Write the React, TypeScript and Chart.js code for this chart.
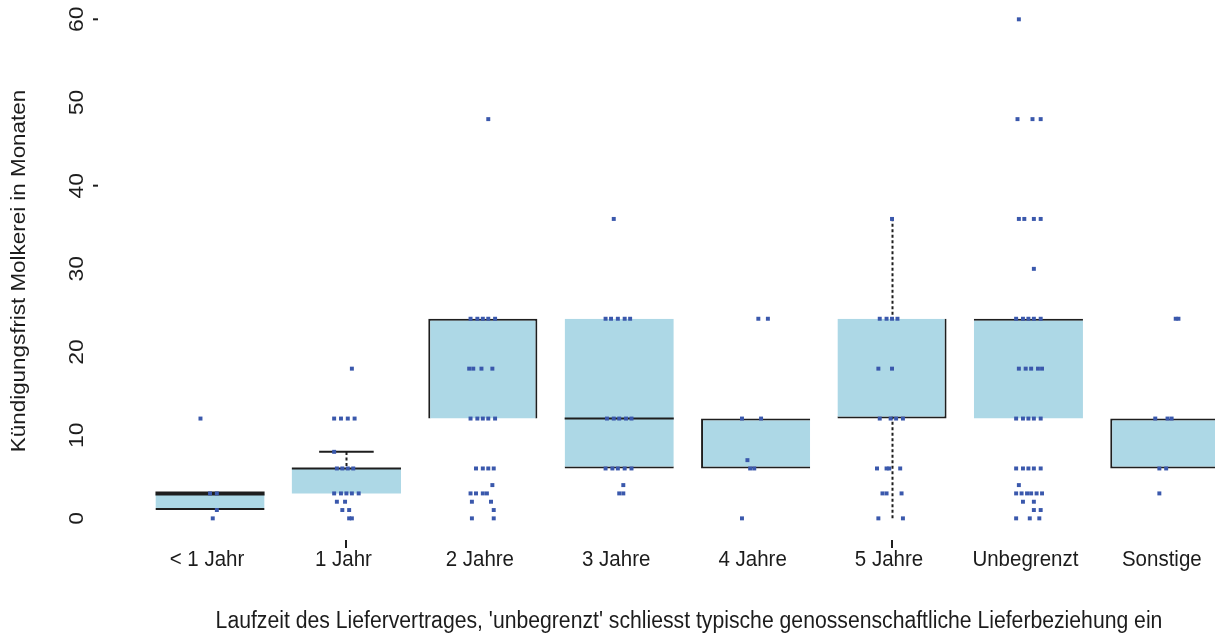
import { useEffect, useRef } from "react";
import { Chart, registerables } from "chart.js";

Chart.register(...registerables);

// ---------- data ----------
const categories = ["< 1 Jahr", "1 Jahr", "2 Jahre", "3 Jahre", "4 Jahre", "5 Jahre", "Unbegrenzt", "Sonstige"];
const q1 = [1, 3, 12, 6, 6, 12, 12, 6];
const q3 = [3, 6, 24, 24, 12, 24, 24, 12];
const medians = [3, 6, 24, 12, 12, 12, 24, 12];
const upperWhisker: (number | null)[] = [null, 8, null, null, null, 36, null, null];
const lowerWhisker: (number | null)[] = [null, null, null, null, null, 0, null, null];
const yTicks = [0, 10, 20, 30, 40, 50, 60];
const yTitle = "Kündigungsfrist Molkerei in Monaten";
const xTitle = "Laufzeit des Liefervertrages, 'unbegrenzt' schliesst typische genossenschaftliche Lieferbeziehung ein";

// observations: [months, horizontal jitter in category widths]
const obsLt1Jahr = [[12, -0.07], [3, 0], [3, 0.05], [1, 0.05], [0, 0.02]];
const obs1Jahr = [
  [18, 0.04], [12, -0.09], [12, -0.04], [12, 0.01], [12, 0.06], [8, -0.09],
  [6, -0.07], [6, -0.03], [6, 0.01], [6, 0.05],
  [3, -0.09], [3, -0.04], [3, 0], [3, 0.04], [3, 0.09],
  [2, -0.07], [2, -0.01], [1, -0.03], [1, 0.02], [0, 0.02], [0, 0.04],
];
const obs2Jahre = [
  [48, 0.04], [24, -0.09], [24, -0.04], [24, 0], [24, 0.04], [24, 0.09],
  [18, -0.1], [18, -0.07], [18, -0.01], [18, 0.07],
  [12, -0.09], [12, -0.04], [12, 0], [12, 0.04], [12, 0.09],
  [6, -0.05], [6, 0], [6, 0.04], [6, 0.08], [4, 0.07],
  [3, -0.09], [3, -0.05], [3, 0], [3, 0.03], [2, -0.08], [2, 0.06], [1, 0.08], [0, -0.08], [0, 0.08],
];
const obs3Jahre = [
  [36, -0.04], [24, -0.1], [24, -0.06], [24, -0.01], [24, 0.04], [24, 0.08],
  [12, -0.09], [12, -0.04], [12, 0], [12, 0.05], [12, 0.09],
  [6, -0.1], [6, -0.05], [6, -0.01], [6, 0.04], [6, 0.09], [4, 0.03], [3, 0], [3, 0.03],
];
const obs4Jahre = [[24, 0.02], [24, 0.09], [12, -0.1], [12, 0.04], [7, -0.06], [6, -0.04], [6, -0.01], [0, -0.1]];
const obs5Jahre = [
  [36, 0], [24, -0.09], [24, -0.04], [24, 0], [24, 0.04], [18, -0.1], [18, 0],
  [12, -0.09], [12, -0.01], [12, 0.03], [12, 0.08],
  [6, -0.11], [6, -0.04], [6, -0.02], [6, 0.06], [3, -0.07], [3, -0.04], [3, 0.07], [0, -0.1], [0, 0.08],
];
const obsUnbegrenzt = [
  [60, -0.07], [48, -0.08], [48, 0.03], [48, 0.09],
  [36, -0.07], [36, -0.03], [36, 0.04], [36, 0.09], [30, 0.04],
  [24, -0.09], [24, -0.04], [24, 0], [24, 0.04], [24, 0.09],
  [18, -0.07], [18, -0.02], [18, 0.02], [18, 0.07], [18, 0.1],
  [12, -0.09], [12, -0.04], [12, 0], [12, 0.04], [12, 0.09],
  [6, -0.09], [6, -0.04], [6, 0], [6, 0.04], [6, 0.09], [4, -0.07],
  [3, -0.09], [3, -0.05], [3, -0.01], [3, 0.02], [3, 0.06], [3, 0.1],
  [2, -0.04], [2, 0.04], [1, 0.04], [1, 0.09], [0, -0.09], [0, 0.01], [0, 0.08],
];
const obsSonstige = [[24, 0.08], [24, 0.1], [12, -0.07], [12, 0.02], [12, 0.05], [6, -0.04], [6, 0.01], [3, -0.04]];
const observations = [obsLt1Jahr, obs1Jahr, obs2Jahre, obs3Jahre, obs4Jahre, obs5Jahre, obsUnbegrenzt, obsSonstige];

// ---------- styles ----------
const BOX_FILL = "#ADD8E6";
const LINE = "#1e1e1e";
const POINT = "rgb(58,88,172)";
const TEXT = "#1c1c1c";
const TICK_FONT = '20.5px "Liberation Sans", Arial, sans-serif';
const X_TITLE_FONT = '21.2px "Liberation Sans", Arial, sans-serif';
const Y_TITLE_FONT = '20px "Liberation Sans", Arial, sans-serif';
const STRETCH = 1.12;
const boxBorders = [
  { top: 0, right: 0, bottom: 2, left: 0 },
  { top: 0, right: 0, bottom: 0, left: 0 },
  { top: 2, right: 2, bottom: 0, left: 2 },
  { top: 0, right: 0, bottom: 2, left: 0 },
  { top: 2, right: 0, bottom: 2, left: 2 },
  { top: 0, right: 2, bottom: 2, left: 0 },
  { top: 2, right: 0, bottom: 0, left: 0 },
  { top: 2, right: 2, bottom: 2, left: 2 },
];
const medianWidths = [4, 2, 0, 2, 0, 0, 0, 0];
const capWidths = [0, 0.4, 0, 0, 0, 0, 0, 0];
const yTickMarksShown = [40, 60];
const xTickMarksShown = [2, 6];

function drawText(ctx: CanvasRenderingContext2D, text: string, x: number, y: number, rotated: boolean) {
  ctx.save();
  ctx.translate(x, y);
  ctx.scale(1, STRETCH);
  if (rotated) ctx.rotate(-Math.PI / 2);
  ctx.fillText(text, 0, 0);
  ctx.restore();
}

const boxPlugin = {
  id: "boxExtras",
  beforeDatasetsDraw(chart: any) {
    const { ctx, scales } = chart;
    const { x, y } = scales;
    ctx.save();
    ctx.strokeStyle = LINE;
    ctx.lineWidth = 2;
    ctx.setLineDash([3, 2.5]);
    categories.forEach((_, i) => {
      if (upperWhisker[i] == null && lowerWhisker[i] == null) return;
      const hi = upperWhisker[i] ?? q3[i];
      const lo = lowerWhisker[i] ?? q1[i];
      const px = Math.round(x.getPixelForValue(i + 1)) + 0.5;
      ctx.beginPath();
      ctx.moveTo(px, y.getPixelForValue(lo));
      ctx.lineTo(px, y.getPixelForValue(hi));
      ctx.stroke();
    });
    ctx.restore();
  },
  afterDatasetDraw(chart: any, args: any) {
    if (args.index !== 1) return;
    const { ctx, scales } = chart;
    const { x, y } = scales;
    ctx.save();
    ctx.strokeStyle = LINE;
    categories.forEach((_, i) => {
      if (medianWidths[i] > 0) {
        ctx.lineWidth = medianWidths[i];
        const py = y.getPixelForValue(medians[i]);
        ctx.beginPath();
        ctx.moveTo(x.getPixelForValue(i + 1 - 0.4), py);
        ctx.lineTo(x.getPixelForValue(i + 1 + 0.4), py);
        ctx.stroke();
      }
      if (capWidths[i] > 0 && upperWhisker[i] != null) {
        ctx.lineWidth = 2;
        const py = y.getPixelForValue(upperWhisker[i]);
        ctx.beginPath();
        ctx.moveTo(x.getPixelForValue(i + 1 - capWidths[i] / 2), py);
        ctx.lineTo(x.getPixelForValue(i + 1 + capWidths[i] / 2), py);
        ctx.stroke();
      }
    });
    ctx.restore();
  },
  afterDraw(chart: any) {
    const { ctx, scales } = chart;
    const { x, y } = scales;
    ctx.save();
    ctx.fillStyle = TEXT;
    ctx.textAlign = "center";
    ctx.textBaseline = "middle";
    ctx.font = TICK_FONT;
    yTicks.forEach((v) => drawText(ctx, String(v), 77, y.getPixelForValue(v), true));
    categories.forEach((c, i) => drawText(ctx, c, x.getPixelForValue(i + 1) - 3, 560, false));
    ctx.font = Y_TITLE_FONT;
    drawText(ctx, yTitle, 19, 271, true);
    ctx.font = X_TITLE_FONT;
    drawText(ctx, xTitle, 689, 621, false);
    ctx.strokeStyle = LINE;
    ctx.lineWidth = 2;
    yTickMarksShown.forEach((v) => {
      const py = y.getPixelForValue(v);
      ctx.beginPath();
      ctx.moveTo(93, py);
      ctx.lineTo(98, py);
      ctx.stroke();
    });
    xTickMarksShown.forEach((c) => {
      const px = Math.round(x.getPixelForValue(c));
      ctx.beginPath();
      ctx.moveTo(px, 540);
      ctx.lineTo(px, 548);
      ctx.stroke();
    });
    ctx.restore();
  },
};

export default function App() {
  const ref = useRef<HTMLCanvasElement>(null);
  useEffect(() => {
    const scatterData: { x: number; y: number }[] = [];
    observations.forEach((list, i) => list.forEach(([v, j]) => scatterData.push({ x: i + 1 + j, y: v })));
    const chart = new Chart(ref.current!, {
      type: "bar",
      data: {
        datasets: [
          {
            type: "scatter",
            data: scatterData,
            pointStyle: "rect",
            pointRadius: 2.8,
            pointBackgroundColor: POINT,
            pointBorderWidth: 0,
            showLine: false,
          } as any,
          {
            type: "bar",
            data: categories.map((_, i) => ({ x: i + 1, y: [q1[i], q3[i]] })),
            backgroundColor: BOX_FILL,
            borderColor: LINE,
            borderWidth: boxBorders as any,
            borderSkipped: false,
            barPercentage: 0.8,
            categoryPercentage: 1,
          } as any,
        ],
      },
      options: {
        animation: false,
        responsive: false,
        devicePixelRatio: 1,
        layout: { autoPadding: false, padding: { left: 120, right: 0, top: 11, bottom: 101 } },
        plugins: { legend: { display: false }, tooltip: { enabled: false } },
        scales: {
          x: {
            type: "linear",
            display: false,
            offset: false,
            grid: { offset: false },
            min: 0.34,
            max: 8.368,
            afterBuildTicks: (s: any) => {
              s.ticks = categories.map((_, i) => ({ value: i + 1 }));
            },
          },
          y: {
            type: "linear",
            display: false,
            min: -2,
            max: 61,
          },
        },
      },
      plugins: [boxPlugin],
    });
    return () => chart.destroy();
  }, []);
  return (
    <div style={{ position: "absolute", left: 0, top: 0, width: 1215, height: 636, background: "#fff" }}>
      <canvas ref={ref} width={1215} height={636} style={{ display: "block", width: 1215, height: 636 }} />
    </div>
  );
}
